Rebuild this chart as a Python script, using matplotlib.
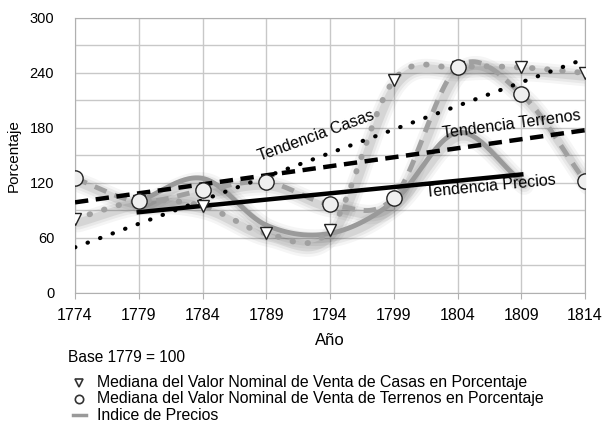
import numpy as np
import matplotlib.pyplot as plt
import matplotlib.transforms as mtransforms
from matplotlib.lines import Line2D

plt.rcParams['font.family'] = ['Liberation Sans', 'DejaVu Sans']

anios = [1774, 1779, 1784, 1789, 1794, 1799, 1804, 1809, 1814]
casas = [81, 100, 95, 65, 69, 232, 246, 246, 240]
terrenos = [125, 100, 112, 121, 97, 104, 246, 217, 122]
anios_precios = [1779, 1784, 1789, 1794, 1799, 1804, 1809]
precios = [100, 125, 74, 65, 100, 175, 122]


def suavizar(x, y, n=30):
    # curva Catmull-Rom por los puntos, como la linea suavizada de Excel
    x = np.asarray(x, float)
    y = np.asarray(y, float)
    px = np.concatenate([[2 * x[0] - x[1]], x, [2 * x[-1] - x[-2]]])
    py = np.concatenate([[2 * y[0] - y[1]], y, [2 * y[-1] - y[-2]]])
    xs, ys = [], []
    t = np.linspace(0, 1, n)
    for i in range(1, len(px) - 2):
        for p, out in ((px, xs), (py, ys)):
            p0, p1, p2, p3 = p[i - 1], p[i], p[i + 1], p[i + 2]
            out.extend(0.5 * ((2 * p1) + (-p0 + p2) * t
                              + (2 * p0 - 5 * p1 + 4 * p2 - p3) * t ** 2
                              + (-p0 + 3 * p1 - 3 * p2 + p3) * t ** 3))
    return np.array(xs), np.array(ys)


fig = plt.figure(figsize=(6.07, 4.24), dpi=100)
ax = fig.add_axes([0.1236, 0.309, 0.8402, 0.6486])

# sombra difusa desplazada hacia abajo a la derecha
desplazada = mtransforms.offset_copy(ax.transData, fig=fig, x=3, y=-4, units='dots')


def sombra(xs, ys):
    for lw, al in ((14, 0.04), (10, 0.05), (6, 0.08)):
        ax.plot(xs, ys, color='black', lw=lw, alpha=al, solid_capstyle='round',
                solid_joinstyle='round', transform=desplazada, zorder=2)


curvas = [suavizar(anios_precios, precios), suavizar(anios, casas), suavizar(anios, terrenos)]
for xs, ys in curvas:
    sombra(xs, ys)

xs, ys = curvas[0]
ax.plot(xs, ys, color='#9a9a9a', lw=3.5, solid_capstyle='round', zorder=3)
xs, ys = curvas[1]
ax.plot(xs, ys, color='#a0a0a0', lw=4.2, ls=(0, (0.1, 2.5)), dash_capstyle='round', zorder=3)
xs, ys = curvas[2]
ax.plot(xs, ys, color='#a0a0a0', lw=3.5, ls=(0, (2.6, 1.8)), zorder=3)

ax.plot(anios, casas, ls='none', marker='v', ms=9, mfc='white', mec='#222222', mew=1, zorder=5)
ax.plot(anios, terrenos, ls='none', marker='o', ms=11, mfc='#efefef', mec='#222222', mew=1, zorder=5)

# lineas de tendencia
a = np.array(anios)
m, b = np.polyfit(a, casas, 1)
ax.plot(a[[0, -1]], m * a[[0, -1]] + b, color='black', lw=3, ls=(0, (0.1, 3.1)),
        dash_capstyle='round', zorder=4)
m, b = np.polyfit(a, terrenos, 1)
ax.plot(a[[0, -1]], m * a[[0, -1]] + b, color='black', lw=3.2, ls=(0, (3, 1.7)), zorder=4)
ap = np.array(anios_precios)
m, b = np.polyfit(ap, precios, 1)
ax.plot(ap[[0, -1]], m * ap[[0, -1]] + b, color='black', lw=3.2, zorder=4)

ax.text(1792.9, 171, 'Tendencia Casas', rotation=20, fontsize=11.5, ha='center', va='center', zorder=6)
ax.text(1808.2, 184, 'Tendencia Terrenos', rotation=7.5, fontsize=11.5, ha='center', va='center', zorder=6)
ax.text(1806.6, 116, 'Tendencia Precios', rotation=5.5, fontsize=11.5, ha='center', va='center', zorder=6)

ax.set_xlim(1774, 1814)
ax.set_ylim(0, 300)
ax.set_xticks(anios)
ax.set_yticks(range(0, 301, 60))
ax.set_yticks(range(30, 300, 60), minor=True)
ax.grid(True, which='both', color='#c8c8c8', lw=1)
ax.set_axisbelow(True)
for s in ax.spines.values():
    s.set_color('#b0b0b0')
ax.tick_params(axis='x', length=4, color='#b0b0b0', labelsize=11.5, pad=7)
ax.tick_params(axis='y', which='both', length=0, labelsize=10.5, pad=15)
ax.set_xlabel('Año', fontsize=12, labelpad=7)
ax.set_ylabel('Porcentaje', fontsize=11, labelpad=6)

# leyenda inferior dibujada a mano
fig.text(68 / 607, 1 - 358 / 424, 'Base 1779 = 100', fontsize=11.2, va='center')
estilos = [dict(ls='none', marker='v', ms=6, mfc='white', mec='#333333', mew=1.2),
           dict(ls='none', marker='o', ms=6, mfc='white', mec='#333333', mew=1.2),
           dict(color='#9a9a9a', lw=2.5)]
etiquetas = ['Mediana del Valor Nominal de Venta de Casas en Porcentaje',
             'Mediana del Valor Nominal de Venta de Terrenos en Porcentaje',
             'Indice de Precios']
for fila, (estilo, texto) in enumerate(zip(estilos, etiquetas)):
    yf = 1 - (383 + 16 * fila) / 424
    if 'marker' in estilo:
        fig.add_artist(Line2D([79 / 607], [yf], transform=fig.transFigure, **estilo))
    else:
        fig.add_artist(Line2D([73 / 607, 86 / 607], [yf, yf], transform=fig.transFigure, **estilo))
    fig.text(97 / 607, yf, texto, fontsize=11.4, va='center')

fig.savefig('out.png', dpi=100)
